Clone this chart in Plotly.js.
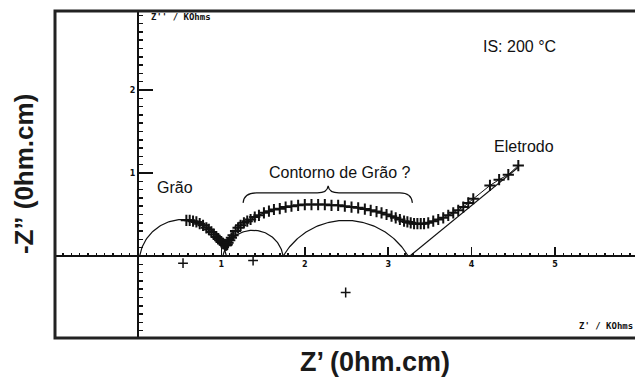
<!DOCTYPE html>
<html><head><meta charset="utf-8">
<script src="https://cdn.plot.ly/plotly-3.0.1.min.js"></script>
<style>html,body{margin:0;padding:0;background:#fff}#chart{width:635px;height:382px}</style>
</head><body><div id="chart"></div>
<script>
// Measured impedance points: Z' (kOhm) and -Z'' (kOhm)
const zReal = [0.58,0.62,0.66,0.70,0.74,0.78,0.82,0.85,0.88,0.91,0.94,0.96,0.98,1.00,1.02,1.04,1.05,1.06,1.07,1.08,1.10,1.12,1.14,1.17,1.20,1.23,1.27,1.31,1.35,1.40,1.45,1.51,1.57,1.63,1.70,1.77,1.84,1.92,2.00,2.08,2.16,2.24,2.32,2.40,2.48,2.56,2.64,2.72,2.79,2.86,2.92,2.98,3.04,3.09,3.14,3.19,3.23,3.27,3.31,3.35,3.39,3.43,3.48,3.54,3.60,3.66,3.72,3.78,3.84,3.90,3.96,4.02,4.22,4.33,4.44,4.56];
const zImag = [0.43,0.43,0.42,0.41,0.39,0.37,0.34,0.32,0.29,0.26,0.23,0.21,0.19,0.17,0.15,0.14,0.13,0.13,0.14,0.16,0.19,0.22,0.25,0.30,0.34,0.37,0.40,0.42,0.44,0.47,0.49,0.52,0.54,0.56,0.57,0.59,0.60,0.61,0.62,0.62,0.62,0.62,0.61,0.61,0.60,0.59,0.58,0.565,0.55,0.535,0.52,0.50,0.48,0.46,0.44,0.42,0.41,0.40,0.39,0.39,0.39,0.39,0.40,0.42,0.44,0.46,0.49,0.52,0.55,0.59,0.64,0.69,0.85,0.92,0.98,1.09];

// Fitted semicircles (depressed arcs): centre and radius, kOhm
const arcCenterX = [0.54, 1.38, 2.49];
const arcCenterY = [-0.087, -0.054, -0.44];
const arcRadius  = [0.527, 0.364, 0.869];

// Electrode straight-line fit
const elecX = [3.26, 4.56];
const elecY = [0.0, 1.07];

const xTickVals = [1, 2, 3, 4, 5];
const xTickText = ['1', '2', '3', '4', '5'];
const yTickVals = [1, 2];
const yTickText = ['1', '2'];

const xRange = [-0.995, 5.959];
const yRange = [-0.988, 2.952];

const INK = '#111';

function arcTrace(cx, cy, r) {
  const a0 = Math.asin(Math.max(-1, Math.min(1, -cy / r)));
  const xs = [], ys = [];
  const n = 90;
  for (let i = 0; i <= n; i++) {
    const t = a0 + (Math.PI - 2 * a0) * i / n;
    xs.push(cx + r * Math.cos(t));
    ys.push(cy + r * Math.sin(t));
  }
  return {x: xs, y: ys, mode: 'lines', type: 'scatter', line: {color: INK, width: 1.2}, hoverinfo: 'skip', showlegend: false};
}

const traces = [];
for (let i = 0; i < arcCenterX.length; i++) traces.push(arcTrace(arcCenterX[i], arcCenterY[i], arcRadius[i]));
traces.push({x: elecX, y: elecY, mode: 'lines', type: 'scatter', line: {color: INK, width: 1.2}, showlegend: false});
traces.push({x: arcCenterX, y: arcCenterY, mode: 'markers', type: 'scatter',
  marker: {symbol: 'cross-thin-open', size: 7, color: INK, line: {color: INK, width: 1.5}}, showlegend: false});
traces.push({x: zReal, y: zImag, mode: 'lines+markers', type: 'scatter',
  line: {color: INK, width: 1},
  marker: {symbol: 'cross-thin-open', size: 8, color: INK, line: {color: INK, width: 2}}, showlegend: false});

const xPos = (0 - yRange[0]) / (yRange[1] - yRange[0]);
const yPos = (0 - xRange[0]) / (xRange[1] - xRange[0]);

const tickFont = {family: 'DejaVu Sans', size: 8, weight: 'bold', color: INK};
const txtFont = {family: 'Liberation Sans, Arial, sans-serif', size: 16, color: INK};
const unitFont = {family: 'DejaVu Sans Mono', size: 9, weight: 'bold', color: INK};
const titleFont = {family: 'Liberation Sans, Arial, sans-serif', size: 26, weight: 'bold', color: '#1a1a1a'};
const xTitleFont = {family: 'Liberation Sans, Arial, sans-serif', size: 27, weight: 'bold', color: '#1a1a1a'};

const layout = {
  width: 635, height: 382,
  margin: {l: 55, r: 0, t: 11, b: 44},
  paper_bgcolor: '#fff', plot_bgcolor: '#fff',
  showlegend: false,
  xaxis: {
    range: xRange, anchor: 'free', position: xPos,
    showline: true, linecolor: INK, linewidth: 2,
    showgrid: false, zeroline: false,
    ticks: 'inside', ticklen: 8, tickwidth: 1.5, tickcolor: INK,
    tickmode: 'array', tickvals: xTickVals, ticktext: xTickText, tickfont: tickFont,
    minor: {tickmode: 'linear', tick0: 0, dtick: 0.1, ticks: 'inside', ticklen: 2.5, tickwidth: 1.5, tickcolor: INK, showgrid: false}
  },
  yaxis: {
    range: yRange, anchor: 'free', position: yPos,
    showline: true, linecolor: INK, linewidth: 2,
    showgrid: false, zeroline: false,
    ticks: 'inside', ticklen: 14, tickwidth: 1.5, tickcolor: INK,
    tickmode: 'array', tickvals: yTickVals, ticktext: yTickText, tickfont: tickFont,
    minor: {tickmode: 'linear', tick0: 0, dtick: 0.1, ticks: 'inside', ticklen: 4, tickwidth: 1.5, tickcolor: INK, showgrid: false}
  },
  shapes: [
    {type: 'rect', xref: 'paper', yref: 'paper', x0: 0, y0: 0, x1: 1.05, y1: 1, line: {color: '#222', width: 3}, fillcolor: 'rgba(0,0,0,0)', layer: 'above'},
    {type: 'path', xref: 'x', yref: 'y', line: {color: INK, width: 1.2},
     path: 'M 1.26,0.64 Q 1.27,0.76 1.42,0.76 L 2.15,0.76 Q 2.27,0.76 2.28,0.845 Q 2.29,0.76 2.41,0.76 L 3.14,0.76 Q 3.28,0.76 3.29,0.64'}
  ],
  annotations: [
    {xref: 'x', yref: 'y', x: 0.13, y: 2.88, xanchor: 'left', yanchor: 'middle', text: "Z'' / KOhms", showarrow: false, font: unitFont},
    {xref: 'x', yref: 'y', x: 5.26, y: -0.84, xanchor: 'left', yanchor: 'middle', text: "Z' / KOhms", showarrow: false, font: unitFont},
    {xref: 'x', yref: 'y', x: 4.575, y: 2.53, xanchor: 'center', yanchor: 'middle', text: 'IS: 200 °C', showarrow: false, font: txtFont},
    {xref: 'x', yref: 'y', x: 4.63, y: 1.325, xanchor: 'center', yanchor: 'middle', text: 'Eletrodo', showarrow: false, font: txtFont},
    {xref: 'x', yref: 'y', x: 0.444, y: 0.831, xanchor: 'center', yanchor: 'middle', text: 'Grão', showarrow: false, font: txtFont},
    {xref: 'x', yref: 'y', x: 2.42, y: 1.01, xanchor: 'center', yanchor: 'middle', text: 'Contorno de Grão ?', showarrow: false, font: txtFont},
    {xref: 'paper', yref: 'paper', x: -0.0534, y: 0.5015, xanchor: 'center', yanchor: 'middle', textangle: -90, text: '-Z” (0hm.cm)', showarrow: false, font: titleFont},
    {xref: 'paper', yref: 'paper', x: 0.5517, y: -0.0734, xanchor: 'center', yanchor: 'middle', text: 'Z’ (0hm.cm)', showarrow: false, font: xTitleFont}
  ]
};

Plotly.newPlot('chart', traces, layout, {displayModeBar: false, staticPlot: true});
</script>
</body></html>
